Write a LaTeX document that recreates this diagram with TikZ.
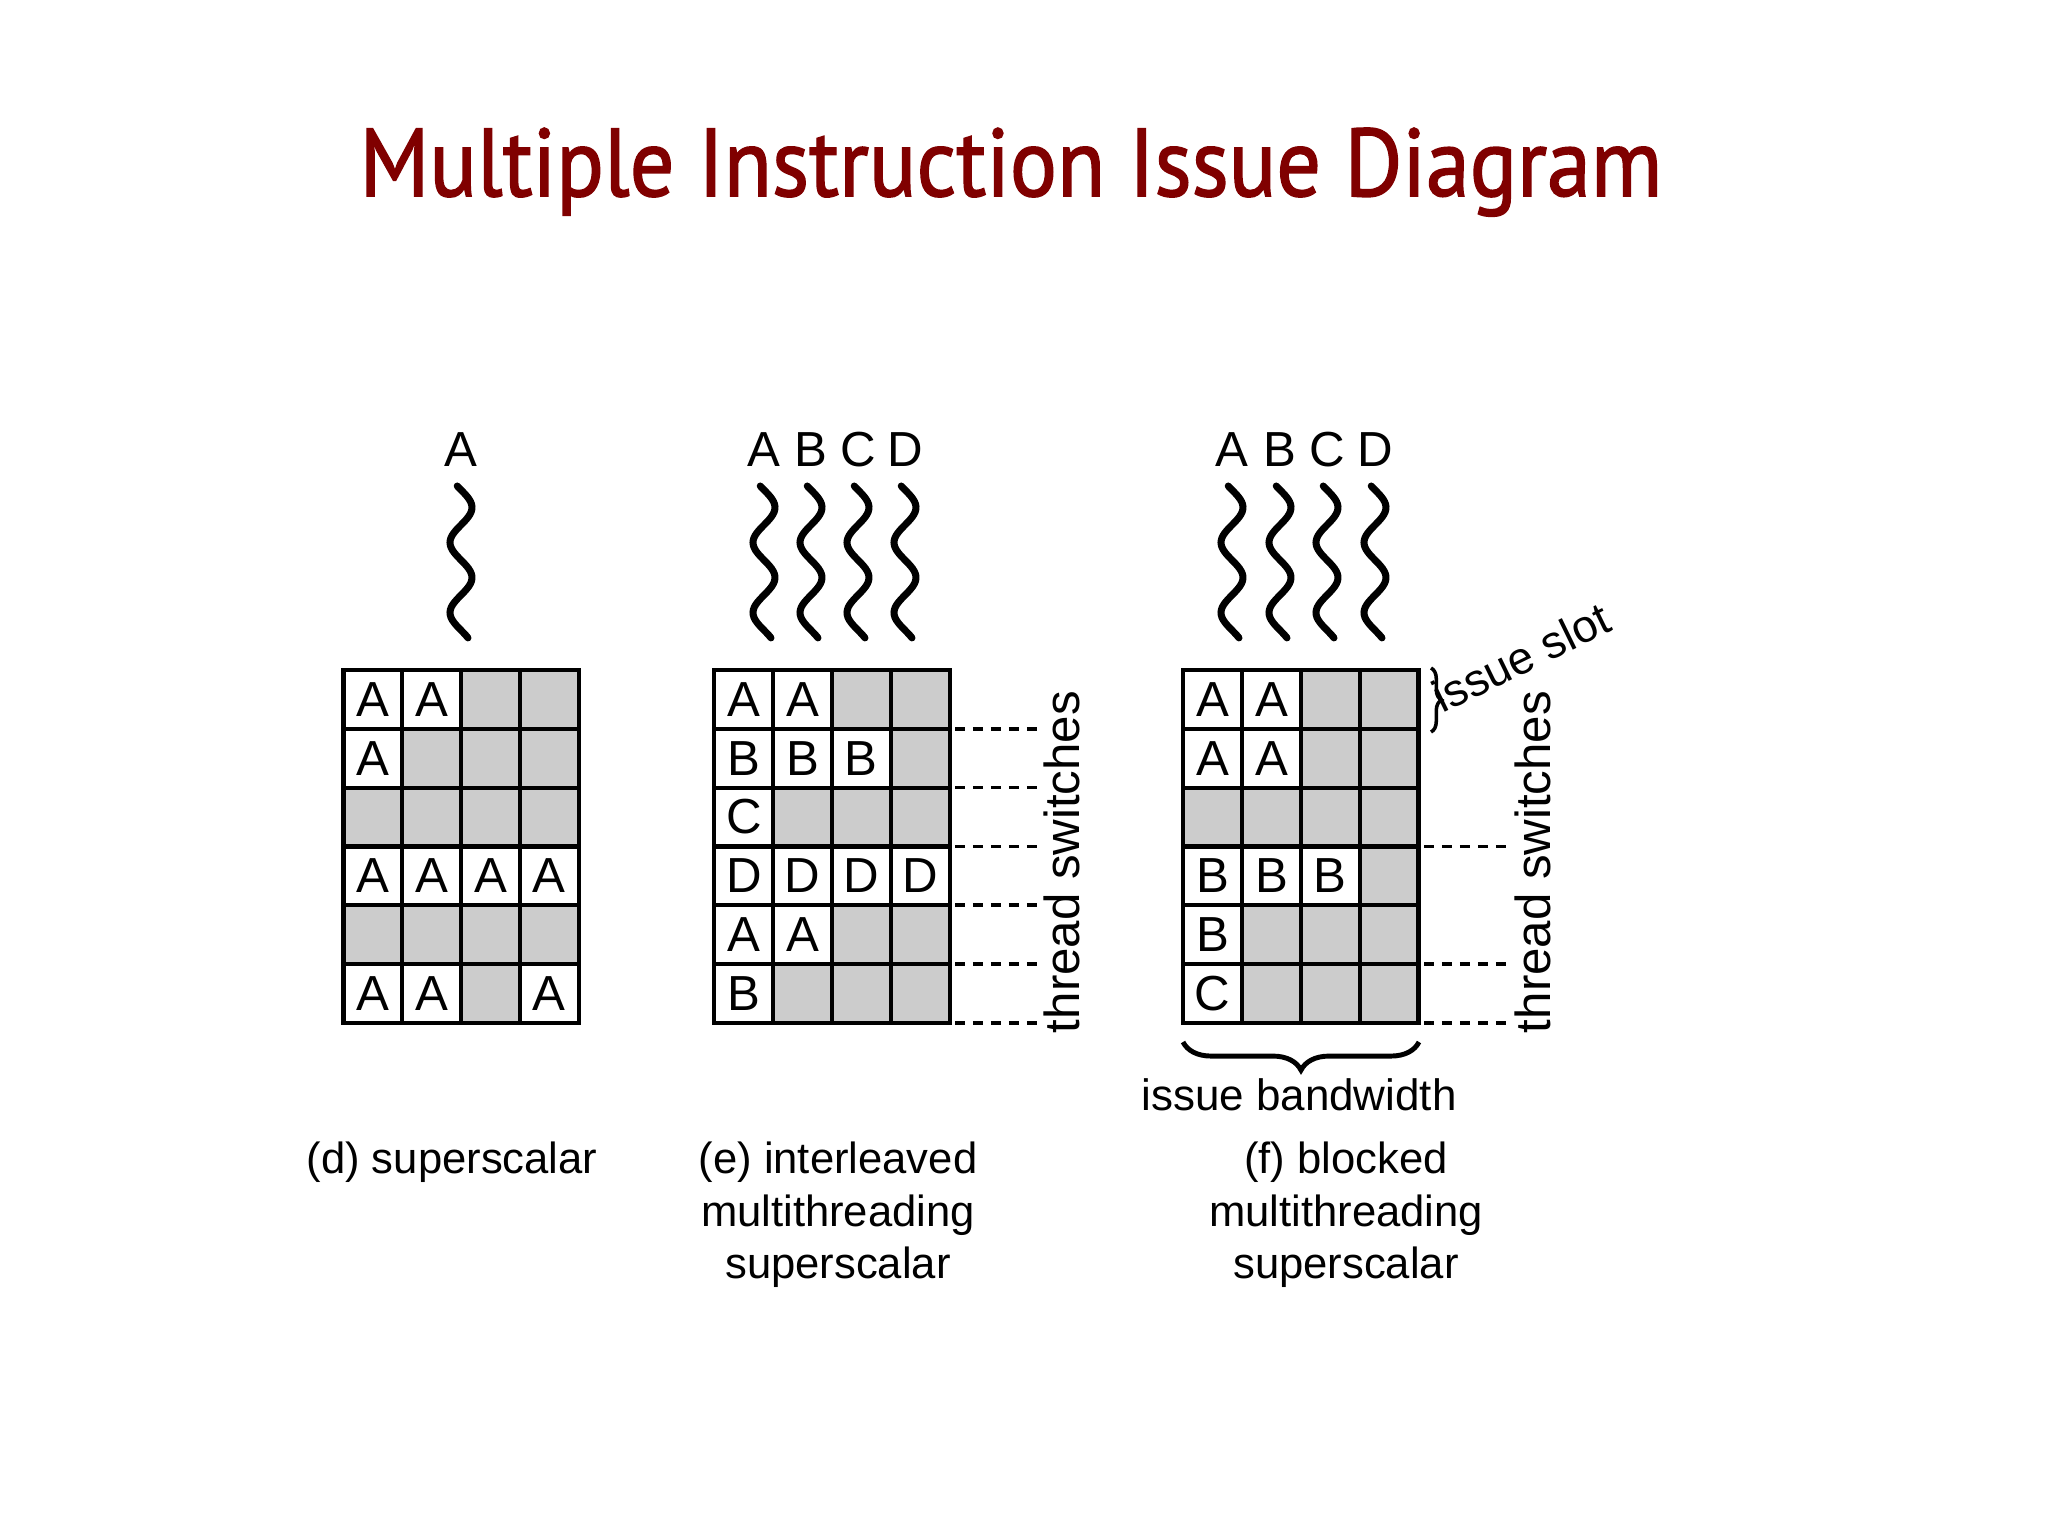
\documentclass[tikz,border=0pt]{standalone}
\usepackage{fontspec}
\setmainfont{Liberation Sans}
\newfontfamily\titlefont[FakeBold=1.6]{PT Sans}
\usetikzlibrary{decorations.pathreplacing}
\definecolor{titlered}{RGB}{128,0,0}
\definecolor{slotgray}{RGB}{204,204,204}

\newcommand{\mkgrid}[3]{%
  \node[gridbox] (#1) at ({#2+117.6},846.4) {};
  \foreach \rr/\cc/\lt in {#3} {
    \node[cellA] (#1-\rr-\cc) at ({#2+(\cc-0.5)*58.8},{670+(\rr-0.5)*58.8}) {\lt};
  }
  \foreach \ii in {1,2,3} \draw[gridline] ({#2+\ii*58.8},670) -- ({#2+\ii*58.8},1022.8);
  \foreach \jj in {1,...,5} \draw[gridline] (#2,{670+\jj*58.8}) -- ({#2+235.2},{670+\jj*58.8});
  \draw[gridline] (#1.north west) rectangle (#1.south east);
}

\begin{document}
\begin{tikzpicture}[x=0.01cm,y=-0.01cm,
  gridline/.style={line width=1.2pt},
  gridbox/.style={fill=slotgray, draw=none, minimum width=2.352cm, minimum height=3.528cm, inner sep=0pt, outer sep=0pt},
  cellA/.style={fill=white, draw=none, minimum width=0.588cm, minimum height=0.588cm, inner sep=0pt, font=\fontsize{14}{16}\selectfont},
  toplab/.style={inner sep=0pt, font=\fontsize{14}{16}\selectfont},
  wig/.style={line width=2pt, line cap=round},
  dashln/.style={line width=1pt, dash pattern=on 2.9pt off 2.2pt},
  rotlab/.style={rotate=90, inner sep=0pt, font=\fontsize{14}{16}\selectfont},
  caption/.style={align=center, inner sep=0pt, font=\fontsize{12.4}{14.9}\selectfont},
]
\useasboundingbox (0,0) rectangle (2048,1536);
\fill[white] (0,0) rectangle (2048,1536);

% title
\node[anchor=base west, inner sep=0pt, text=titlered] (title) at (359,196)
  {\resizebox{13.02cm}{0.68cm}{\titlefont Multiple Instruction Issue Diagram}};

% grids
\mkgrid{gd}{343.5}{1/1/A,1/2/A,2/1/A,4/1/A,4/2/A,4/3/A,4/4/A,6/1/A,6/2/A,6/4/A}
\mkgrid{ge}{714.4}{1/1/A,1/2/A,2/1/B,2/2/B,2/3/B,3/1/C,4/1/D,4/2/D,4/3/D,4/4/D,5/1/A,5/2/A,6/1/B}
\mkgrid{gf}{1183.3}{1/1/A,1/2/A,2/1/A,2/2/A,4/1/B,4/2/B,4/3/B,5/1/B,6/1/C}

% thread labels and wiggles
\foreach \lt/\px/\nm in {A/461/dA, A/764/eA, B/811/eB, C/858/eC, D/905/eD, A/1232/fA, B/1280/fB, C/1327/fC, D/1375/fD} {
  \node[toplab] (t\nm) at (\px,450) {\lt};
  \draw[wig] plot[domain=0:1, samples=60, smooth] ({\px+11*sin(780*\x-20)},{486+152*\x});
}

% thread switch dashes (e)
\foreach \k in {1,...,6} {
  \coordinate (es\k) at (955,{670+\k*58.8});
  \coordinate (ee\k) at (1037,{670+\k*58.8});
  \draw[dashln] (es\k) -- (ee\k);
}
\node[rotlab] (ets) at (1062,862) {thread switches};

% thread switch dashes (f)
\foreach \k in {3,5,6} {
  \coordinate (fs\k) at (1424,{670+\k*58.8});
  \coordinate (fe\k) at (1506,{670+\k*58.8});
  \draw[dashln] (fs\k) -- (fe\k);
}
\node[rotlab] (fts) at (1533,862) {thread switches};

% issue slot
\coordinate (slotT) at (1431,668);
\coordinate (slotB) at (1431,732);
\draw[line width=1pt, decorate, decoration={brace, amplitude=3pt}] (slotT) -- (slotB);
\node[anchor=base west, rotate=26, inner sep=0pt, font=\fontsize{13}{15}\selectfont] (slot) at (1442,714) {issue slot};

% issue bandwidth
\coordinate (bwL) at (1183,1042);
\coordinate (bwR) at (1419,1042);
\draw[line width=1.4pt, decorate, decoration={brace, amplitude=8pt}] (bwR) -- (bwL);
\node[anchor=base, inner sep=0pt, font=\fontsize{12.5}{15}\selectfont] (bw) at (1299,1110) {issue bandwidth};

% captions
\node[caption] (capd) at (452,1162) {(d) superscalar};
\node[caption] (cape) at (838,1215) {(e) interleaved\\multithreading\\superscalar};
\node[caption] (capf) at (1346,1215) {(f) blocked\\multithreading\\superscalar};
\end{tikzpicture}
\end{document}
